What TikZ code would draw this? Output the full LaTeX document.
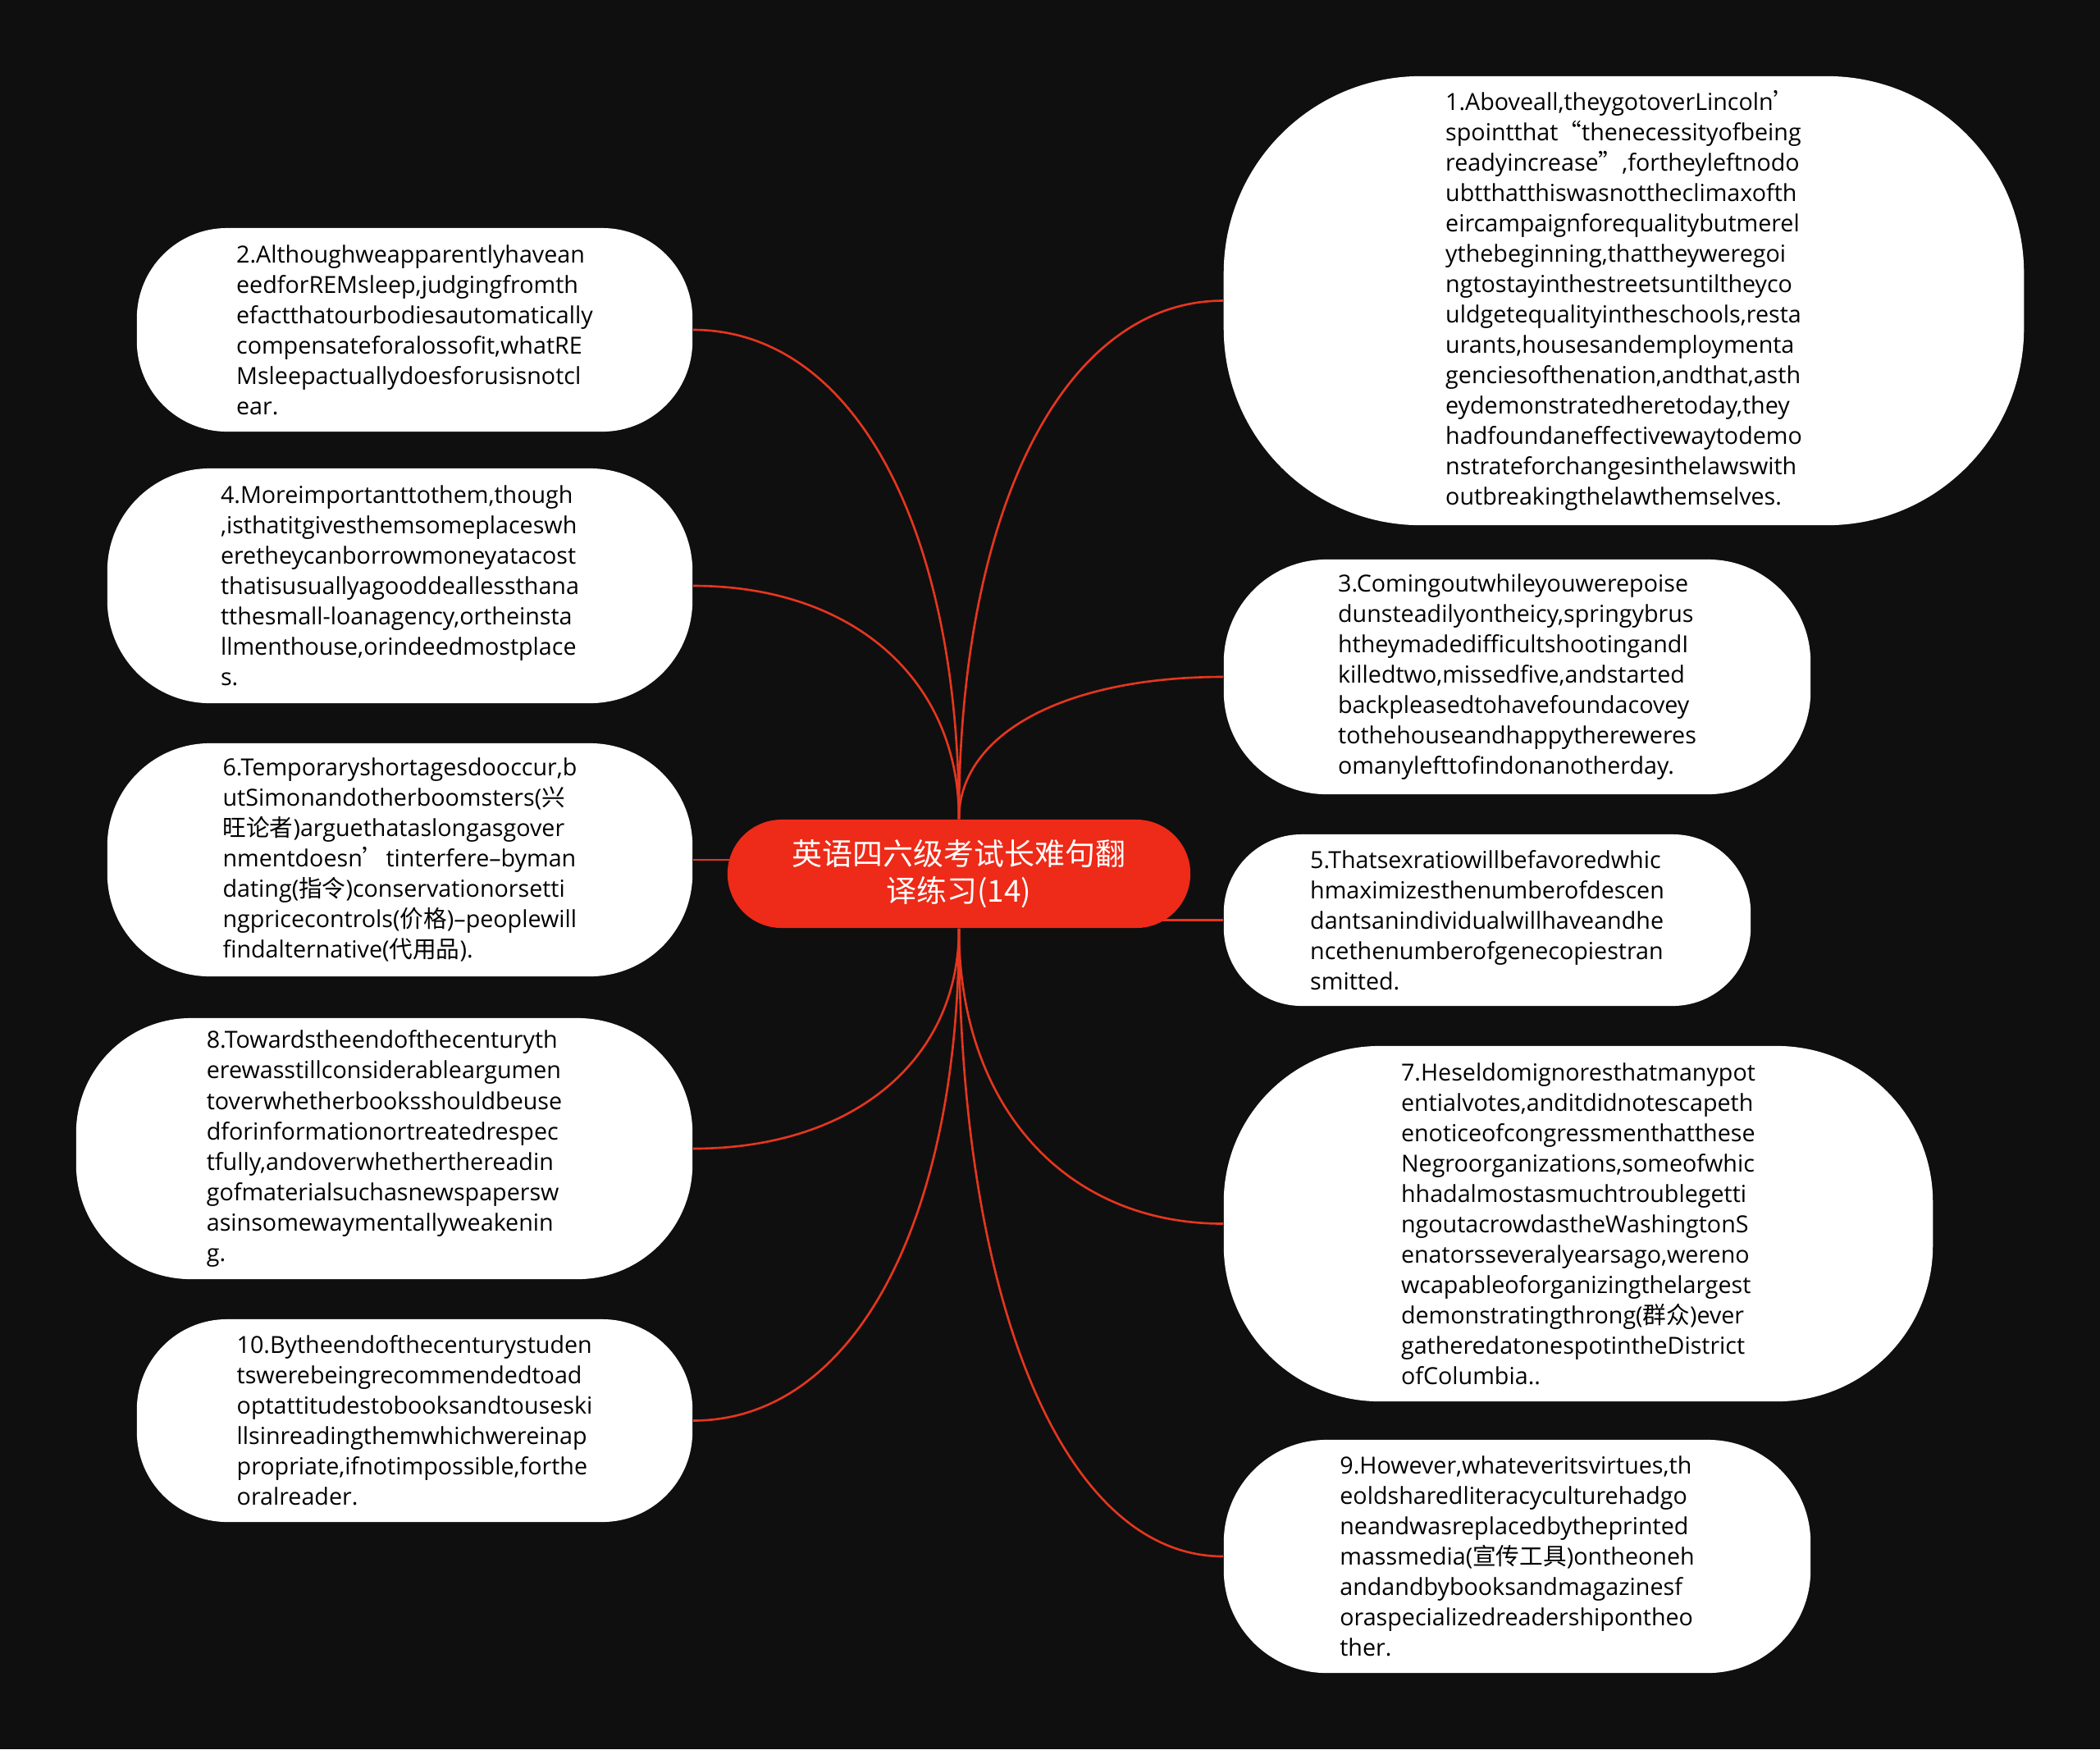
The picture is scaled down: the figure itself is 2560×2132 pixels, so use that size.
\documentclass[tikz,border=0pt]{standalone}
\usepackage{fontspec}
\setmainfont{Open Sans}
\newfontfamily\cjk{Noto Sans CJK SC}
\usetikzlibrary{backgrounds,calc}
\definecolor{bgdark}{HTML}{0F0F0F}
\definecolor{rootred}{HTML}{EE2A18}
\definecolor{linkred}{HTML}{E5361F}

\begin{document}
\begin{tikzpicture}[x=0.01cm,y=-0.01cm,
  leaf/.style={fill=white,text=black,align=left,inner sep=0pt,font=\fontsize{8.15}{10.53}\selectfont},
  rootbox/.style={fill=rootred,text=white,align=center,inner sep=0pt,rounded corners=0.66cm,font=\cjk\fontsize{10.5}{13}\selectfont},
  link/.style={draw=linkred,line width=0.75pt},
  branch/.style={link,to path={.. controls ($(\tikztostart)!0.6!(\tikztostart |- \tikztotarget)$) and ($(\tikztotarget)!0.6!(\tikztostart |- \tikztotarget)$) .. (\tikztotarget)}}]

\node[rootbox,minimum width=5.64cm,minimum height=1.32cm] (root) at (1169,1065) {英语四六级考试长难句翻\\译练习(14)};

\node[leaf,minimum width=9.75cm,minimum height=5.47cm,rounded corners=2.4cm] (n1) at (1979.5,366.5) {1.Aboveall,theygotoverLincoln{\cjk ’}\\spointthat{\cjk “}thenecessityofbeing\\readyincrease{\cjk ”},fortheyleftnodo\\ubtthatthiswasnottheclimaxofth\\eircampaignforequalitybutmerel\\ythebeginning,thattheyweregoi\\ngtostayinthestreetsuntiltheyco\\uldgetequalityintheschools,resta\\urants,housesandemploymenta\\genciesofthenation,andthat,asth\\eydemonstratedheretoday,they\\hadfoundaneffectivewaytodemo\\nstrateforchangesinthelawswith\\outbreakingthelawthemselves.};
\node[leaf,minimum width=6.77cm,minimum height=2.48cm,rounded corners=1.1cm] (n2) at (505.5,402) {2.Althoughweapparentlyhavean\\eedforREMsleep,judgingfromth\\efactthatourbodiesautomatically\\compensateforalossofit,whatRE\\Msleepactuallydoesforusisnotcl\\ear.};
\node[leaf,minimum width=7.15cm,minimum height=2.86cm,rounded corners=1.25cm] (n3) at (1849.5,825) {3.Comingoutwhileyouwerepoise\\dunsteadilyontheicy,springybrus\\htheymadedifficultshootingandI\\killedtwo,missedfive,andstarted\\backpleasedtohavefoundacovey\\tothehouseandhappythereweres\\omanylefttofindonanotherday.};
\node[leaf,minimum width=7.13cm,minimum height=2.86cm,rounded corners=1.25cm] (n4) at (487.5,714) {4.Moreimportanttothem,though\\,isthatitgivesthemsomeplaceswh\\eretheycanborrowmoneyatacost\\thatisusuallyagooddeallessthana\\tthesmall-loanagency,ortheinsta\\llmenthouse,orindeedmostplace\\s.};
\node[leaf,minimum width=6.42cm,minimum height=2.09cm,rounded corners=0.95cm] (n5) at (1813,1121.5) {5.Thatsexratiowillbefavoredwhic\\hmaximizesthenumberofdescen\\dantsanindividualwillhaveandhe\\ncethenumberofgenecopiestran\\smitted.};
\node[leaf,minimum width=7.13cm,minimum height=2.84cm,rounded corners=1.25cm] (n6) at (487.5,1048) {6.Temporaryshortagesdooccur,b\\utSimonandotherboomsters({\cjk 兴}\\{\cjk 旺论者})arguethataslongasgover\\nmentdoesn{\cjk ’}tinterfere–byman\\dating({\cjk 指令})conservationorsetti\\ngpricecontrols({\cjk 价格})–peoplewill\\findalternative({\cjk 代用品}).};
\node[leaf,minimum width=8.64cm,minimum height=4.33cm,rounded corners=1.9cm] (n7) at (1924,1491.5) {7.Heseldomignoresthatmanypot\\entialvotes,anditdidnotescapeth\\enoticeofcongressmenthatthese\\Negroorganizations,someofwhic\\hhadalmostasmuchtroublegetti\\ngoutacrowdastheWashingtonS\\enatorsseveralyearsago,wereno\\wcapableoforganizingthelargest\\demonstratingthrong({\cjk 群众})ever\\gatheredatonespotintheDistrict\\ofColumbia..};
\node[leaf,minimum width=7.51cm,minimum height=3.18cm,rounded corners=1.4cm] (n8) at (468.5,1400) {8.Towardstheendofthecenturyth\\erewasstillconsiderableargumen\\toverwhetherbooksshouldbeuse\\dforinformationortreatedrespec\\tfully,andoverwhetherthereadin\\gofmaterialsuchasnewspapersw\\asinsomewaymentallyweakenin\\g.};
\node[leaf,minimum width=7.15cm,minimum height=2.84cm,rounded corners=1.25cm] (n9) at (1849.5,1897) {9.However,whateveritsvirtues,th\\eoldsharedliteracyculturehadgo\\neandwasreplacedbytheprinted\\massmedia({\cjk 宣传工具})ontheoneh\\andandbybooksandmagazinesf\\oraspecializedreadershipontheo\\ther.};
\node[leaf,minimum width=6.77cm,minimum height=2.47cm,rounded corners=1.1cm] (n10) at (505.5,1731.5) {10.Bytheendofthecenturystuden\\tswerebeingrecommendedtoad\\optattitudestobooksandtouseski\\llsinreadingthemwhichwereinap\\propriate,ifnotimpossible,forthe\\oralreader.};

\begin{pgfonlayer}{background}
\fill[bgdark] (0,0) rectangle (2560,2132);
\draw[branch] (root.north) to (n1.west);
\draw[branch] (root.north) to (n3.west);
\draw[branch] (root.north) to (n2.east);
\draw[branch] (root.north) to (n4.east);
\draw[link] (n6.east) -- (root.center |- n6.east);
\draw[link] (root.center |- n5.west) -- (n5.west);
\draw[branch] (root.south) to (n7.west);
\draw[branch] (root.south) to (n9.west);
\draw[branch] (root.south) to (n8.east);
\draw[branch] (root.south) to (n10.east);
\end{pgfonlayer}
\end{tikzpicture}
\end{document}
